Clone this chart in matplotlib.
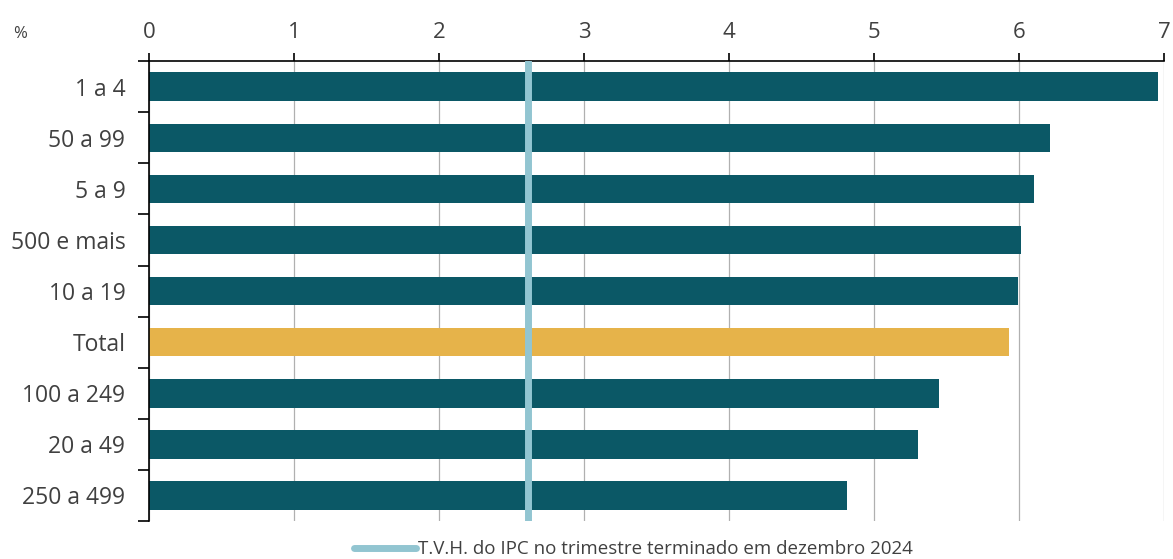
import numpy as np
import matplotlib.pyplot as plt

categorias = ["1 a 4", "50 a 99", "5 a 9", "500 e mais", "10 a 19", "Total",
              "100 a 249", "20 a 49", "250 a 499"]
valores = [6.96, 6.21, 6.10, 6.01, 5.99, 5.93, 5.45, 5.30, 4.81]
ipc = 2.61
legenda_ipc = "T.V.H. do IPC no trimestre terminado em dezembro 2024"

cor_barra = "#0B5866"
cor_total = "#E6B34A"
cor_ipc = "#92C5D1"
cor_texto = "#404040"

plt.rcParams['font.family'] = ['Open Sans', 'DejaVu Sans']

fig = plt.figure(figsize=(11.73, 5.59), dpi=100)
ax = fig.add_axes([0.127, 0.068, 0.8655, 0.8225])

y = np.arange(len(categorias))
cores = [cor_total if c == "Total" else cor_barra for c in categorias]
ax.barh(y, valores, height=0.56, color=cores, zorder=2)
ax.axvline(ipc, color=cor_ipc, linewidth=5, zorder=3, label=legenda_ipc,
           solid_capstyle='round')

ax.set_xlim(0, 7)
ax.set_ylim(len(categorias) - 0.5, -0.5)
ax.xaxis.tick_top()
ax.set_xticks(range(8))
ax.tick_params(axis='x', direction='out', length=6, width=1.2, color='black',
               labelsize=16, labelcolor=cor_texto, pad=7)
ax.set_yticks(y)
ax.set_yticklabels(categorias)
ax.set_yticks(np.arange(len(categorias) + 1) - 0.5, minor=True)
ax.tick_params(axis='y', which='major', length=0, labelsize=16.5,
               labelcolor=cor_texto, pad=17)
ax.tick_params(axis='y', which='minor', direction='out', length=8,
               width=1.2, color='black')

ax.grid(axis='x', color='#B0B0B0', linewidth=0.9, zorder=0)
for s in ['right', 'bottom']:
    ax.spines[s].set_visible(False)
for s in ['top', 'left']:
    ax.spines[s].set_linewidth(1.2)

fig.text(0.011, 0.94, "%", fontsize=12, color=cor_texto, va='center')

ax.legend(loc='upper center', bbox_to_anchor=(0.477, -0.005), frameon=False,
          fontsize=13.5, handlelength=3.3, handletextpad=0.1, labelcolor=cor_texto)

fig.savefig("out.png", dpi=100)
